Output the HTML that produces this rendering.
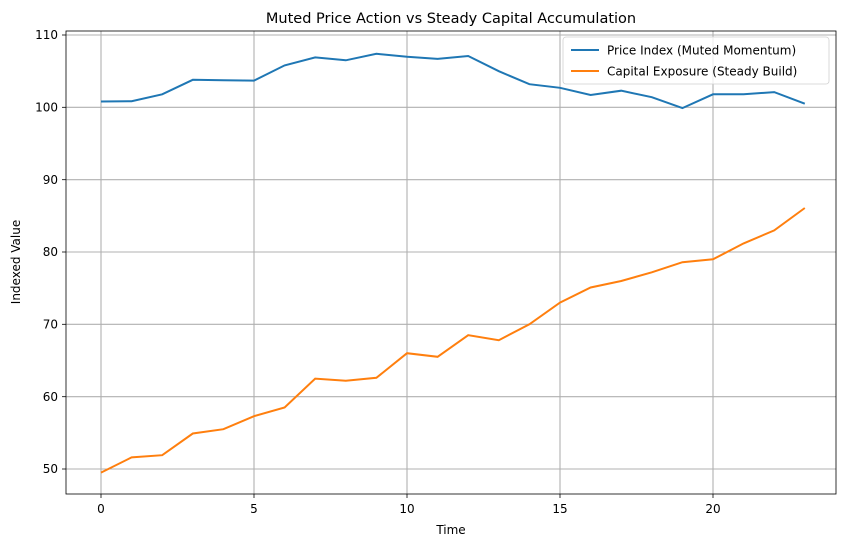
<!DOCTYPE html>
<html><head><meta charset="utf-8"><style>
html,body{margin:0;padding:0;background:#fff;}
svg{display:block;font-family:"DejaVu Sans","Liberation Sans",sans-serif;}
</style></head><body>
<svg width="850" height="547" viewBox="0 0 850 547" xmlns="http://www.w3.org/2000/svg">
<rect width="850" height="547" fill="#fff"/>
<text x="451" y="23" font-size="14.5" text-anchor="middle" fill="#000">Muted Price Action vs Steady Capital Accumulation</text>
<g stroke="#b0b0b0" stroke-width="1.1">
<line x1="101" y1="31" x2="101" y2="494"/>
<line x1="254" y1="31" x2="254" y2="494"/>
<line x1="407" y1="31" x2="407" y2="494"/>
<line x1="560" y1="31" x2="560" y2="494"/>
<line x1="713" y1="31" x2="713" y2="494"/>
<line x1="66" y1="35" x2="836" y2="35"/>
<line x1="66" y1="107.3" x2="836" y2="107.3"/>
<line x1="66" y1="179.7" x2="836" y2="179.7"/>
<line x1="66" y1="252" x2="836" y2="252"/>
<line x1="66" y1="324.3" x2="836" y2="324.3"/>
<line x1="66" y1="396.7" x2="836" y2="396.7"/>
<line x1="66" y1="469" x2="836" y2="469"/>
</g>
<polyline fill="none" stroke="#1f77b4" stroke-width="2" points="101,101.5 131.6,101.2 162.2,94.3 192.8,79.8 223.4,80.2 254,80.6 284.6,65.4 315.2,57.4 345.8,60.3 376.4,53.8 407,56.7 437.6,58.9 468.2,56 498.8,71.2 529.4,84.2 560,87.8 590.6,95 621.2,90.7 651.8,97.2 682.4,108.1 713,94.3 743.6,94.3 774.2,92.1 804.8,103.7"/>
<polyline fill="none" stroke="#ff7f0e" stroke-width="2" points="101,472.6 131.6,457.4 162.2,455.2 192.8,433.5 223.4,429.2 254,416.2 284.6,407.5 315.2,378.6 345.8,380.7 376.4,377.8 407,353.2 437.6,356.8 468.2,335.2 498.8,340.2 529.4,324.3 560,302.6 590.6,287.5 621.2,281 651.8,272.3 682.4,262.2 713,259.3 743.6,243.4 774.2,230.4 804.8,208"/>
<rect x="66" y="31" width="770" height="463" fill="none" stroke="#000" stroke-width="0.8"/>
<g stroke="#000" stroke-width="0.8">
<line x1="101" y1="494" x2="101" y2="498"/><line x1="254" y1="494" x2="254" y2="498"/><line x1="407" y1="494" x2="407" y2="498"/><line x1="560" y1="494" x2="560" y2="498"/><line x1="713" y1="494" x2="713" y2="498"/>
<line x1="62" y1="35" x2="66" y2="35"/><line x1="62" y1="107.3" x2="66" y2="107.3"/><line x1="62" y1="179.7" x2="66" y2="179.7"/><line x1="62" y1="252" x2="66" y2="252"/><line x1="62" y1="324.3" x2="66" y2="324.3"/><line x1="62" y1="396.7" x2="66" y2="396.7"/><line x1="62" y1="469" x2="66" y2="469"/>
</g>
<g font-size="12" fill="#000" text-anchor="middle">
<text x="101" y="513">0</text><text x="254" y="513">5</text><text x="407" y="513">10</text><text x="560" y="513">15</text><text x="713" y="513">20</text>
</g>
<g font-size="12" fill="#000" text-anchor="end">
<text x="58" y="39">110</text><text x="58" y="111.5">100</text><text x="58" y="184">90</text><text x="58" y="256">80</text><text x="58" y="328.5">70</text><text x="58" y="401">60</text><text x="58" y="473">50</text>
</g>
<text x="451" y="534" font-size="12" text-anchor="middle">Time</text>
<text x="20" y="262" font-size="12" text-anchor="middle" transform="rotate(-90 20 262)">Indexed Value</text>
<rect x="563" y="37" width="266" height="47" rx="3" fill="#fff" fill-opacity="0.8" stroke="#d0d0d0" stroke-width="0.8"/>
<line x1="571" y1="50" x2="599" y2="50" stroke="#1f77b4" stroke-width="2"/>
<line x1="571" y1="71" x2="599" y2="71" stroke="#ff7f0e" stroke-width="2"/>
<text x="607" y="54.5" font-size="12">Price Index (Muted Momentum)</text>
<text x="607" y="75.5" font-size="12">Capital Exposure (Steady Build)</text>
</svg>
</body></html>
